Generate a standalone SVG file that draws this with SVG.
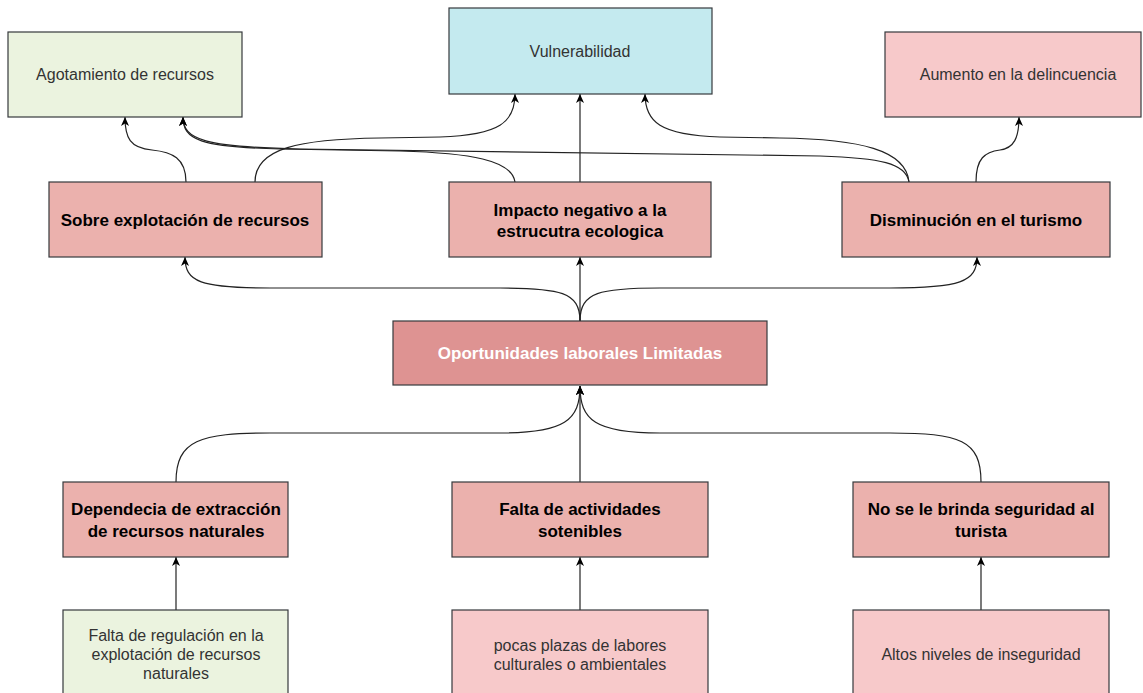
<svg xmlns="http://www.w3.org/2000/svg" width="1143" height="693" viewBox="0 0 1143 693">
<style>
.box{stroke:#36393d;stroke-width:1.2}
.green{fill:#ebf3df}
.cyan{fill:#c4eaef}
.pink{fill:#f7c9ca}
.mid{fill:#ebb1ad}
.core{fill:#de9392}
.t{font-family:"Liberation Sans",Arial,sans-serif;font-size:16px;fill:#333;text-anchor:middle}
.b{font-family:"Liberation Sans",Arial,sans-serif;font-size:17px;font-weight:bold;fill:#000;text-anchor:middle}
.w{fill:#fff}
.e{fill:none;stroke:#222;stroke-width:1.2;marker-end:url(#arr)}
</style>
<defs>
<marker id="arr" markerWidth="10" markerHeight="10" refX="9" refY="5" orient="auto" markerUnits="userSpaceOnUse">
<path d="M0,1 L9,5 L0,9 L2.5,5 z" fill="#000"/>
</marker>
</defs>
<rect width="1143" height="693" fill="#fff"/>
<g id="edges">
<path class="e" d="M580,321 C580,292 560,288 500,288 L270,288 C200,288 185,282 185,257"/>
<path class="e" d="M580,321 L580,257"/>
<path class="e" d="M580,321 C580,292 600,288 660,288 L890,288 C960,288 977,282 977,257"/>
<path class="e" d="M176,482 C176,440 200,433 270,433 L500,433 C565,433 580,420 580,386"/>
<path class="e" d="M580,482 L580,386"/>
<path class="e" d="M981,482 C981,440 960,433 890,433 L660,433 C595,433 580,420 580,386"/>
<path class="e" d="M176,610 L176,557"/>
<path class="e" d="M580,610 L580,557"/>
<path class="e" d="M981,610 L981,557"/>
<path class="e" d="M186,182 C186,158 172,152 152,150 C130,148 125,138 125,117"/>
<path class="e" d="M255,182 C255,148 300,139 380,138 L440,137 C500,135 515,122 515,94"/>
<path class="e" d="M515,182 C512,160 470,153 400,151 L280,149 C200,147 183,140 183,117"/>
<path class="e" d="M580,182 L580,94"/>
<path class="e" d="M909,182 C906,150 860,139 780,138 L720,137 C660,135 645,122 645,94"/>
<path class="e" d="M909,182 C906,163 880,158 820,156 L300,149 C205,147 183,140 183,117"/>
<path class="e" d="M976,182 C976,158 985,152 1000,150 C1014,148 1019,138 1019,117"/>
</g>
<g id="agotamiento"><rect class="box green" x="8" y="32" width="234" height="85"/><text class="t" x="125" y="80">Agotamiento de recursos</text></g>
<g id="vulnerabilidad"><rect class="box cyan" x="449" y="8" width="263" height="86"/><text class="t" x="580" y="57">Vulnerabilidad</text></g>
<g id="aumento"><rect class="box pink" x="885" y="32" width="256" height="85"/><text class="t" x="1018" y="80">Aumento en la delincuencia</text></g>
<g id="sobre"><rect class="box mid" x="49" y="182" width="273" height="75"/><text class="b" x="185" y="226">Sobre explotación de recursos</text></g>
<g id="impacto"><rect class="box mid" x="449" y="182" width="262" height="75"/><text class="b" x="580" y="216">Impacto negativo a la</text><text class="b" x="580" y="237">estrucutra ecologica</text></g>
<g id="disminucion"><rect class="box mid" x="842" y="182" width="268" height="75"/><text class="b" x="976" y="226">Disminución en el turismo</text></g>
<g id="oportunidades"><rect class="box core" x="393" y="321" width="374" height="64"/><text class="b w" x="580" y="359">Oportunidades laborales Limitadas</text></g>
<g id="dependecia"><rect class="box mid" x="63" y="482" width="225" height="75"/><text class="b" x="176" y="515">Dependecia de extracción</text><text class="b" x="176" y="537">de recursos naturales</text></g>
<g id="falta"><rect class="box mid" x="452" y="482" width="256" height="75"/><text class="b" x="580" y="515">Falta de actividades</text><text class="b" x="580" y="537">sotenibles</text></g>
<g id="seguridad"><rect class="box mid" x="853" y="482" width="256" height="75"/><text class="b" x="981" y="515">No se le brinda seguridad al</text><text class="b" x="981" y="537">turista</text></g>
<g id="regulacion"><rect class="box green" x="63" y="610" width="225" height="86"/><text class="t" x="176" y="641">Falta de regulación en la</text><text class="t" x="176" y="660">explotación de recursos</text><text class="t" x="176" y="679">naturales</text></g>
<g id="plazas"><rect class="box pink" x="452" y="610" width="256" height="86"/><text class="t" x="580" y="651">pocas plazas de labores</text><text class="t" x="580" y="670">culturales o ambientales</text></g>
<g id="inseguridad"><rect class="box pink" x="853" y="610" width="256" height="86"/><text class="t" x="981" y="660">Altos niveles de inseguridad</text></g>
</svg>
